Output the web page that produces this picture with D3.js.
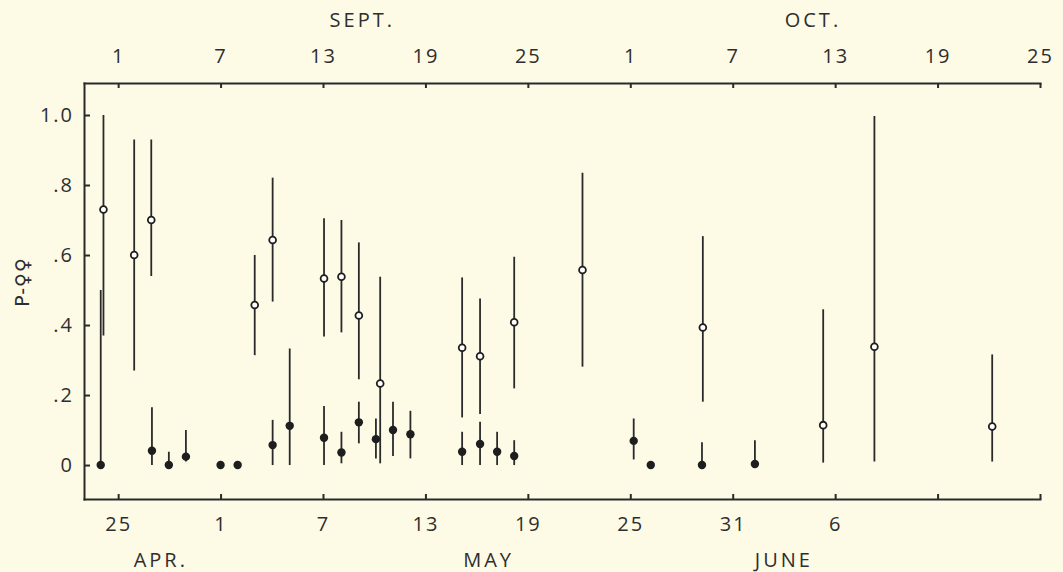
<!DOCTYPE html>
<html>
<head>
<meta charset="utf-8">
<script src="https://cdn.jsdelivr.net/npm/d3@7"></script>
<style>
  body { margin: 0; background: #fdfae6; }
  svg { display: block; }
  .axis text { font-family: "Open Sans", sans-serif; font-size: 20px; fill: #2e2e2e; letter-spacing: 2px; }
  .axis path, .axis line { stroke: #2a2a2a; stroke-width: 2; }
  .month { font-family: "Open Sans", sans-serif; font-size: 20px; fill: #2e2e2e; letter-spacing: 3px; }
  .ylabel { font-family: "DejaVu Sans", sans-serif; font-size: 19px; fill: #2e2e2e; letter-spacing: 1px; }
</style>
</head>
<body>
<div id="chart"></div>
<script>
//Datos: dias desde 1 sept (arriba) / 25 abr (abajo)
const openDay = [-0.86, 0.94, 1.94, 8.0, 9.05, 12.06, 13.08, 14.1, 15.35, 20.15, 21.2, 23.2, 27.2, 34.25, 41.3, 44.3, 51.2];
const openP   = [0.73, 0.60, 0.70, 0.457, 0.643, 0.533, 0.538, 0.427, 0.233, 0.335, 0.311, 0.408, 0.557, 0.393, 0.114, 0.338, 0.11];
const openLo  = [0.37, 0.27, 0.54, 0.314, 0.467, 0.367, 0.379, 0.245, 0.005, 0.136, 0.146, 0.219, 0.281, 0.181, 0.007, 0.01, 0.01];
const openHi  = [1.0, 0.93, 0.93, 0.60, 0.821, 0.705, 0.70, 0.636, 0.538, 0.536, 0.476, 0.595, 0.835, 0.654, 0.445, 0.997, 0.316];

const fillDay = [-1.02, 1.98, 2.97, 3.97, 6.0, 7.0, 9.05, 10.05, 12.06, 13.08, 14.1, 15.1, 16.1, 17.12, 20.15, 21.2, 22.2, 23.2, 30.2, 31.2, 34.2, 37.3];
const fillP   = [0, 0.041, 0, 0.024, 0, 0, 0.057, 0.112, 0.078, 0.036, 0.122, 0.074, 0.10, 0.088, 0.038, 0.06, 0.038, 0.026, 0.069, 0, 0, 0.003];
const fillLo  = [0, 0, 0, 0.01, 0, 0, 0, 0, 0, 0.005, 0.062, 0.019, 0.026, 0.019, 0, 0, 0, 0, 0.016, 0, 0, 0];
const fillHi  = [0.5, 0.165, 0.038, 0.10, 0, 0, 0.129, 0.333, 0.169, 0.095, 0.181, 0.133, 0.181, 0.155, 0.095, 0.124, 0.095, 0.071, 0.133, 0, 0.065, 0.071];

//Ejes
const tickDays = [0, 6, 12, 18, 24, 30, 36, 42, 48, 54];
const topLabels = ['1', '7', '13', '19', '25', '1', '7', '13', '19', '25'];
const bottomLabels = ['25', '1', '7', '13', '19', '25', '31', '6', '', ''];
const yTicks = [0, 0.2, 0.4, 0.6, 0.8, 1.0];
const yLabels = ['0', '.2', '.4', '.6', '.8', '1.0'];
const topMonths = [{name: 'SEPT.', day: 14.3}, {name: 'OCT.', day: 40.7}];
const bottomMonths = [{name: 'APR.', day: 2.5}, {name: 'MAY', day: 21.7}, {name: 'JUNE', day: 39}];

let svg = d3.select('#chart').append('svg')
    .attr('width', 1063)
    .attr('height', 572);

let x = d3.scaleLinear().domain([-2, 54]).range([84, 1040]);
let y = d3.scaleLinear().domain([-0.097, 1.0914]).range([499, 83]);

svg.append('g')
    .attr('class', 'axis')
    .attr('transform', 'translate(0,' + y.range()[1] + ')')
    .call(d3.axisTop(x).tickValues(tickDays).tickSizeInner(-5).tickSizeOuter(0).tickPadding(20)
        .tickFormat(function(d, i) { return topLabels[i]; }));

svg.append('g')
    .attr('class', 'axis')
    .attr('transform', 'translate(0,' + y.range()[0] + ')')
    .call(d3.axisBottom(x).tickValues(tickDays).tickSizeInner(-5).tickSizeOuter(0).tickPadding(18)
        .tickFormat(function(d, i) { return bottomLabels[i]; }));

svg.append('g')
    .attr('class', 'axis')
    .attr('transform', 'translate(' + x.range()[0] + ',0)')
    .call(d3.axisLeft(y).tickValues(yTicks).tickSizeInner(-6).tickSizeOuter(0).tickPadding(10)
        .tickFormat(function(d, i) { return yLabels[i]; }));

svg.selectAll('.axis .domain').attr('stroke-linecap', 'square');

//Meses
svg.selectAll('.top-month')
    .data(topMonths)
    .enter()
    .append('text')
    .attr('class', 'month')
    .attr('x', function(d) { return x(d.day); })
    .attr('y', 27)
    .attr('text-anchor', 'middle')
    .text(function(d) { return d.name; });

svg.selectAll('.bottom-month')
    .data(bottomMonths)
    .enter()
    .append('text')
    .attr('class', 'month')
    .attr('x', function(d) { return x(d.day); })
    .attr('y', 567)
    .attr('text-anchor', 'middle')
    .text(function(d) { return d.name; });

//Titulo eje Y
svg.append('text')
    .attr('class', 'ylabel')
    .attr('transform', 'translate(29,282) rotate(-90)')
    .attr('text-anchor', 'middle')
    .text('P-♀♀');

//Series
let openData = openDay.map(function(d, i) { return {day: d, p: openP[i], lo: openLo[i], hi: openHi[i]}; });
let fillData = fillDay.map(function(d, i) { return {day: d, p: fillP[i], lo: fillLo[i], hi: fillHi[i]}; });

function drawBars(data) {
    svg.append('g')
        .selectAll('line')
        .data(data.filter(function(d) { return d.hi > d.lo; }))
        .enter()
        .append('line')
        .attr('x1', function(d) { return x(d.day); })
        .attr('x2', function(d) { return x(d.day); })
        .attr('y1', function(d) { return y(d.lo); })
        .attr('y2', function(d) { return y(d.hi); })
        .attr('stroke', '#2a2a2a')
        .attr('stroke-width', 1.8);
}

drawBars(fillData);
drawBars(openData);

svg.append('g')
    .selectAll('circle')
    .data(fillData)
    .enter()
    .append('circle')
    .attr('cx', function(d) { return x(d.day); })
    .attr('cy', function(d) { return y(d.p); })
    .attr('r', 4.2)
    .attr('fill', '#1e1e1e');

svg.append('g')
    .selectAll('circle')
    .data(openData)
    .enter()
    .append('circle')
    .attr('cx', function(d) { return x(d.day); })
    .attr('cy', function(d) { return y(d.p); })
    .attr('r', 3.4)
    .attr('fill', '#ffffff')
    .attr('stroke', '#1e1e1e')
    .attr('stroke-width', 1.8);
</script>
</body>
</html>
